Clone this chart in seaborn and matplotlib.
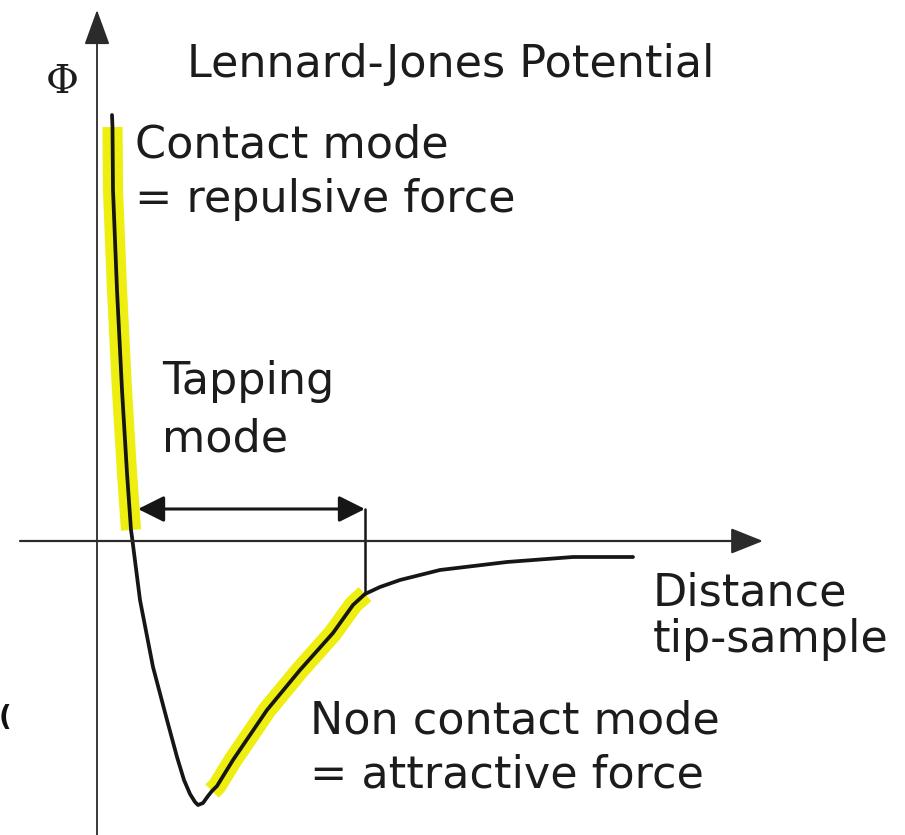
import numpy as np
import pandas as pd
import matplotlib
matplotlib.use("Agg")
import matplotlib.pyplot as plt
import seaborn as sns

# Lennard-Jones style potential curve (distance from origin, potential value)
distance = [15, 15.5, 16, 20, 25, 30, 34, 35, 43, 56, 70, 80, 87, 93, 98, 101,
            106, 111, 115, 120, 136, 170, 203, 236, 256, 268, 283, 303, 343,
            410, 476, 536]
potential = [425, 413, 350, 250, 150, 67, 10, 3, -60, -127, -180, -217, -240,
             -254, -262, -265, -263, -256, -251, -246, -220, -170, -130, -93,
             -65, -54, -47, -40, -30, -22, -17, -17]

# Highlighted operating regimes (distance ranges along the curve)
contact_range = (15.5, 34)
noncontact_range = (115, 268)

# Tapping-mode span: from left end to right end at a fixed potential level
tapping_span = (41, 268)
tapping_level = 31

sns.set_theme(style="white")
plt.rcParams["font.family"] = ["DejaVu Sans"]

df = pd.DataFrame({"distance": distance, "potential": potential})

fig = plt.figure(figsize=(9.05, 8.35), dpi=100)
ax = fig.add_axes([0, 0, 1, 1])
ax.set_xlim(-97, 808)
ax.set_ylim(-295, 540)
ax.axis("off")

yellow = "#eeee10"
ink = "#161616"

# yellow highlight bands under the curve
for lo, hi, w in [(contact_range[0], contact_range[1], 14.5),
                  (noncontact_range[0], noncontact_range[1], 13.5)]:
    seg = df[(df.distance >= lo) & (df.distance <= hi)]
    sns.lineplot(data=seg, x="distance", y="potential", sort=False, ax=ax,
                 color=yellow, lw=w, solid_capstyle="butt", estimator=None)

# potential curve
sns.lineplot(data=df, x="distance", y="potential", sort=False, ax=ax,
             color=ink, lw=2.7, estimator=None, solid_joinstyle="round")

# coordinate axes with arrowheads
axis_col = "#2b2b2b"
ax.annotate("", xy=(0, 530), xytext=(0, -295),
            arrowprops=dict(arrowstyle="-|>,head_length=22,head_width=8",
                            mutation_scale=1, lw=1.3, color=axis_col,
                            shrinkA=0, shrinkB=0))
ax.annotate("", xy=(666, -1), xytext=(-77, -1),
            arrowprops=dict(arrowstyle="-|>,head_length=20,head_width=8",
                            mutation_scale=1, lw=1.6, color=axis_col,
                            shrinkA=0, shrinkB=0))

# tapping-mode double arrow and drop line to the curve
ax.annotate("", xy=(tapping_span[1], tapping_level),
            xytext=(tapping_span[0], tapping_level),
            arrowprops=dict(arrowstyle="<|-|>,head_length=16,head_width=8",
                            mutation_scale=1, lw=2.2, color=ink,
                            shrinkA=0, shrinkB=0))
drop_y = df.loc[df.distance == tapping_span[1], "potential"].iloc[0]
ax.plot([tapping_span[1], tapping_span[1]], [tapping_level, drop_y],
        color=ink, lw=1.8)

fs = 32
txt = dict(fontsize=fs, color="#1c1c1c", va="baseline", ha="left")
ax.text(90, 463, "Lennard-Jones Potential", **txt)
ax.text(38, 382, "Contact mode", **txt)
ax.text(38, 328, "= repulsive force", **txt)
ax.text(65, 146, "Tapping", **txt)
ax.text(65, 88, "mode", **txt)
ax.text(556, -65, "Distance", **txt)
ax.text(556, -112, "tip-sample", **txt)
ax.text(213, -193, "Non contact mode", **txt)
ax.text(213, -247, "= attractive force", **txt)
ax.text(-35, 447, "\u03a6", fontsize=29, family="DejaVu Serif", color="#1c1c1c",
        ha="center", va="baseline")
ax.text(-98, -186, "(", fontsize=20, fontweight="bold", color="#111111",
        ha="left", va="baseline")

fig.savefig("out.png", dpi=100, facecolor="white")
